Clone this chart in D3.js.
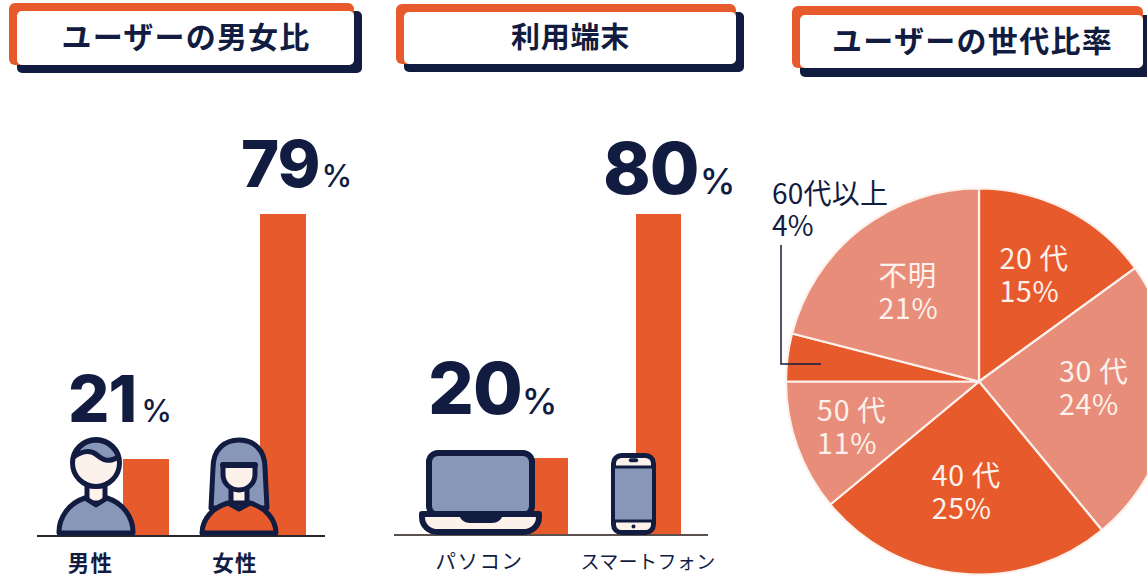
<!DOCTYPE html>
<html lang="ja"><head><meta charset="utf-8">
<script src="https://cdnjs.cloudflare.com/ajax/libs/d3/7.8.5/d3.min.js"></script>
<style>html,body{margin:0;padding:0;background:#fff;overflow:hidden}svg{display:block}</style>
</head><body><svg id="c" width="1147" height="576"></svg>
<script>
// ---- data ----
const genderCategories = ["男性", "女性"];
const genderValues = [21, 79];
const deviceCategories = ["パソコン", "スマートフォン"];
const deviceValues = [20, 80];
const ageCategories = ["20 代", "30 代", "40 代", "50 代", "60代以上", "不明"];
const ageValues = [15, 24, 25, 11, 4, 21];
const titles = ["ユーザーの男女比", "利用端末", "ユーザーの世代比率"];

// ---- style ----
const NAVY = "#121c41", ORANGE = "#e65a2c", SALMON = "#e88d7a", BLUE = "#8896ba", SKIN = "#fdf1ec";
const JP = "'Noto Sans CJK JP','Noto Sans',sans-serif";
const svg = d3.select("#c");

// ---- title plates ----
const plates = [
  {x:9, y:3, w:345, h:62, dx:8, dy:8, tx:186, ty:48, fs:30, ls:1.2},
  {x:396, y:4, w:340, h:60, dx:8, dy:8, tx:570.5, ty:48, fs:29, ls:0.7},
  {x:792, y:6, w:351, h:62, dx:8, dy:9, tx:972.5, ty:52, fs:30, ls:1.3}
];
plates.forEach((p,i)=>{
  svg.append("rect").attr("x",p.x+p.dx).attr("y",p.y+p.dy).attr("width",p.w).attr("height",p.h).attr("rx",5).attr("fill",NAVY);
  svg.append("rect").attr("x",p.x).attr("y",p.y).attr("width",p.w).attr("height",p.h).attr("rx",6).attr("fill",ORANGE);
  svg.append("rect").attr("x",p.x+p.dx).attr("y",p.y+p.dy).attr("width",p.w-p.dx).attr("height",p.h-p.dy).attr("rx",5).attr("fill","#fff");
  svg.append("text").attr("x",p.tx).attr("y",p.ty).attr("text-anchor","middle")
    .attr("font-family",JP).attr("font-weight",700).attr("font-size",p.fs).attr("letter-spacing",p.ls)
    .attr("fill",NAVY).text(titles[i]);
});

// ---- bar panels ----
function barPanel(cfg){
  const x = d3.scaleBand().domain(cfg.cats).range(cfg.xRange).paddingInner(cfg.padInner).paddingOuter(0);
  const y = d3.scaleLinear().domain(cfg.yDomain).range(cfg.yRange);
  const g = svg.append("g");
  g.selectAll("rect.bar").data(cfg.vals).join("rect").attr("class","bar")
    .attr("x",(d,i)=>x(cfg.cats[i])).attr("width",x.bandwidth())
    .attr("y",d=>y(d)).attr("height",d=>y(0)-y(d)).attr("fill",ORANGE);
  const axis = d3.axisBottom(x).tickSize(0).tickFormat("");
  const ax = g.append("g").attr("transform",`translate(0,${y(0)})`).call(axis);
  ax.select(".domain").attr("d",`M${cfg.axisX[0]},0H${cfg.axisX[1]}`).attr("stroke",cfg.axisColor).attr("stroke-width",2);
  ax.selectAll(".tick").remove();
  g.selectAll("text.cat").data(cfg.cats).join("text").attr("class","cat")
    .attr("x",(d,i)=>x(d)+x.bandwidth()/2+cfg.catDx[i]).attr("y",cfg.catY).attr("text-anchor","middle")
    .attr("font-family",JP).attr("font-weight",cfg.catW).attr("font-size",(d,i)=>cfg.catFs[i]).attr("letter-spacing",(d,i)=>cfg.catLs[i])
    .attr("fill",NAVY).text(d=>d);
  cfg.vals.forEach((v,i)=>{
    const L = cfg.lab[i];
    const t = g.append("text").attr("class","val").attr("x",L.x).attr("y",L.y).attr("fill",NAVY).attr("font-family","Inter,Roboto,sans-serif");
    t.append("tspan").attr("font-weight",800).attr("font-size",L.fs).attr("letter-spacing",L.ls).text(v);
    t.append("tspan").attr("font-weight",500).attr("font-size",L.pfs).attr("dx",L.pdx).text("%");
  });
}
barPanel({cats:genderCategories, vals:genderValues, xRange:[123,306], padInner:1-46/137,
  yDomain:[0,21,79], yRange:[536,459,214], axisX:[37,325], axisColor:"#2a2430", catDx:[-55.5,-48], catY:571, catFs:[21.5,21.5], catW:700, catLs:[1.2,1.2],
  lab:[{x:68,y:422,fs:65,ls:-1,pfs:31,pdx:5},{x:241,y:187,fs:65,ls:-1,pfs:31,pdx:2}]});
barPanel({cats:deviceCategories, vals:deviceValues, xRange:[523,681], padInner:1-45/113,
  yDomain:[0,20,80], yRange:[535,458,214], axisX:[394,708], axisColor:"#5b5250", catDx:[-66,-10.5], catY:569, catFs:[20.5,19], catW:400, catLs:[1.5,0.4],
  lab:[{x:428,y:414,fs:72,ls:-1,pfs:36,pdx:0},{x:603,y:194,fs:72,ls:-1,pfs:36,pdx:1}]});

// ---- icons ----
function person(cx, female){
  const g = svg.append("g").attr("transform",`translate(${cx},0)`)
    .attr("stroke",NAVY).attr("stroke-width",5).attr("stroke-linejoin","round").attr("stroke-linecap","round");
  if(female){
    g.append("path").attr("fill",BLUE).attr("d","M-28,508 L-26,468 C-26,449 -14,440 0,440 C14,440 26,449 26,468 L28,508 Z");
    g.append("path").attr("fill",SKIN).attr("d","M-8,484 V503 H8 V484 Z");
    g.append("path").attr("fill",SKIN).attr("d","M-16,465 H16 V474 C16,484 8,490 0,490 C-8,490 -16,484 -16,474 Z");
    g.append("path").attr("fill","none").attr("stroke-width",6).attr("d","M-16,465 H16");
    g.append("path").attr("fill",ORANGE).attr("d","M-37,533 A38,32 0 0 1 -11,503 L0,509 L11,503 A38,32 0 0 1 37,533 Z");
  } else {
    g.append("path").attr("fill",SKIN).attr("d","M-9,484 V503 H9 V484 Z");
    g.append("circle").attr("cy",463).attr("r",23.5).attr("fill",SKIN);
    g.append("path").attr("fill",BLUE).attr("d","M-22.5,457 A23.5,23.5 0 0 1 22.5,457 C12,463 7,460 1,455 C-6,449 -14,451 -22.5,457 Z");
    g.append("path").attr("fill",BLUE).attr("d","M-37,533 A38,36 0 0 1 -11,498 L0,505 L11,498 A38,36 0 0 1 37,533 Z");
  }
}
person(96,false);
person(239,true);

// laptop
(function(){
  const g = svg.append("g").attr("stroke",NAVY).attr("stroke-width",6).attr("stroke-linejoin","round");
  g.append("rect").attr("x",429).attr("y",453).attr("width",103).attr("height",62).attr("rx",9).attr("fill",BLUE);
  g.append("path").attr("fill",SKIN).attr("d","M422,514 H539 V517 C539,526 532,532 523,532 H438 C429,532 422,526 422,517 Z");
  g.append("path").attr("fill",NAVY).attr("stroke-width",0).attr("d","M459,514 H503 C502,520 497,523 492,523 H470 C465,523 460,520 459,514 Z");
})();
// phone
(function(){
  const g = svg.append("g").attr("stroke",NAVY).attr("stroke-linejoin","round");
  g.append("rect").attr("x",613.5).attr("y",455.5).attr("width",40).attr("height",77).attr("rx",8).attr("stroke-width",5).attr("fill",SKIN);
  g.append("rect").attr("x",613.5).attr("y",467).attr("width",40).attr("height",54).attr("stroke-width",3).attr("fill",BLUE);
  g.append("rect").attr("x",629).attr("y",458.5).attr("width",9).attr("height",3.5).attr("rx",1.75).attr("stroke-width",0.5).attr("fill",NAVY);
  g.append("circle").attr("cx",633.5).attr("cy",526.5).attr("r",2).attr("stroke-width",0).attr("fill",NAVY);
})();

// ---- pie ----
const pieCx = 979, pieCy = 381.5, pieR = 193;
const sliceColors = [ORANGE, SALMON, ORANGE, SALMON, ORANGE, SALMON];
const labelNudges = [[-34,1.5],[-39,-7.5],[-36,-8],[-49,6],[-27,6]];
const pie = d3.pie().sort(null).value(d=>d);
const arc = d3.arc().innerRadius(0).outerRadius(pieR);
const labelArc = d3.arc().innerRadius(120).outerRadius(120);
const pg = svg.append("g").attr("transform",`translate(${pieCx},${pieCy})`);
const arcs = pie(ageValues);
pg.selectAll("path").data(arcs).join("path").attr("d",arc)
  .attr("fill",(d,i)=>sliceColors[i]).attr("stroke","#fdf1ec").attr("stroke-width",2.2);
const inside = arcs.map((d,i)=>({d,i})).filter(o=>o.i!==4);
inside.forEach((o,k)=>{
  const c = labelArc.centroid(o.d), n = labelNudges[k];
  const t = pg.append("text").attr("fill","#fdf1ec").attr("font-family",JP).attr("font-size",28.5).attr("letter-spacing",0.7);
  t.append("tspan").attr("x",c[0]+n[0]).attr("y",c[1]+n[1]-7).text(ageCategories[o.i]);
  t.append("tspan").attr("x",c[0]+n[0]).attr("y",c[1]+n[1]+26).text(ageValues[o.i]+"%");
});
// outside label + leader
svg.append("path").attr("d","M781,245 V364 H821").attr("fill","none").attr("stroke",NAVY).attr("stroke-width",1.5);
const out = svg.append("text").attr("fill",NAVY).attr("font-family",JP).attr("font-size",28).attr("letter-spacing",0.2);
out.append("tspan").attr("x",772).attr("y",204).text(ageCategories[4]);
out.append("tspan").attr("x",772).attr("y",236).text(ageValues[4]+"%");
</script></body></html>
